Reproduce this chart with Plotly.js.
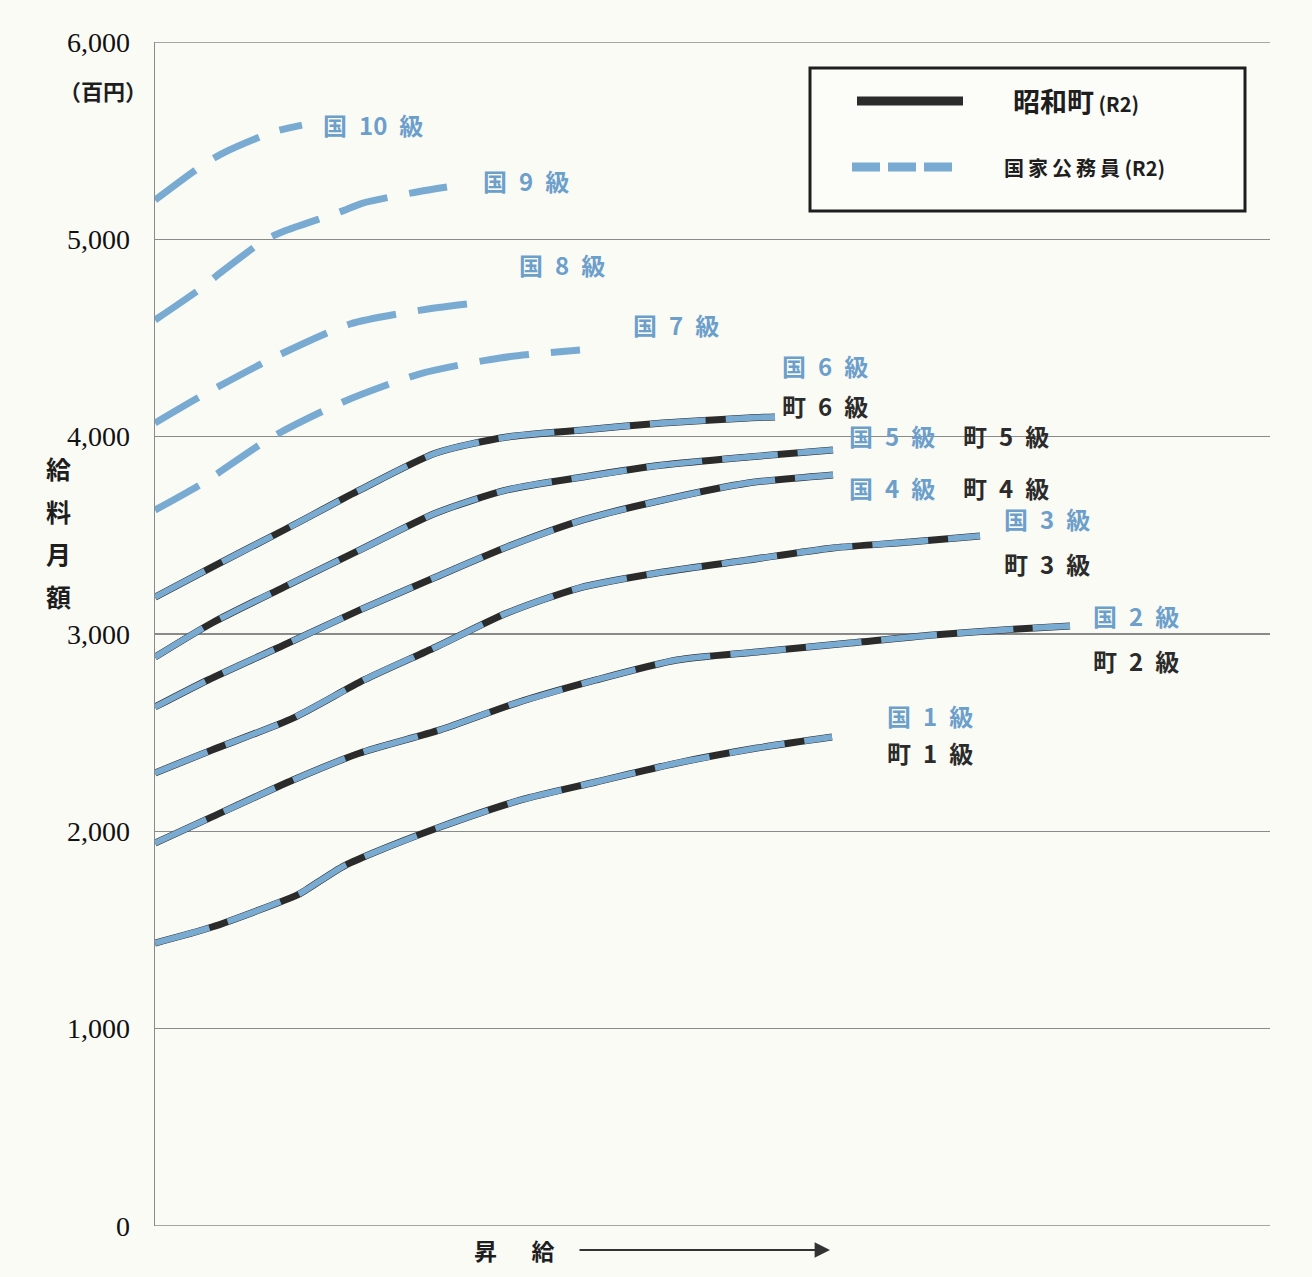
<!DOCTYPE html>
<html>
<head>
<meta charset="utf-8">
<script src="https://cdn.plot.ly/plotly-3.0.1.min.js"></script>
<style>
html,body{margin:0;padding:0;background:#fbfbf6;}
#chart{width:1312px;height:1277px;}
</style>
</head>
<body>
<div id="chart"></div>
<script>
// x: position along the pay-step (昇給) direction, arbitrary units 0..1115
// y: monthly salary in 百円
const grades = ['1', '2', '3', '4', '5', '6'];
const g1x = [0, 57, 142, 151, 187, 218, 285, 366, 441, 522, 602, 677];
const g1y = [1434, 1515, 1677, 1703, 1819, 1890, 2022, 2159, 2250, 2346, 2422, 2478];
const g2x = [0, 57, 138, 205, 285, 361, 441, 522, 602, 695, 778, 862, 915];
const g2y = [1941, 2073, 2260, 2397, 2514, 2650, 2767, 2868, 2909, 2954, 2995, 3025, 3041];
const g3x = [0, 57, 138, 209, 281, 352, 424, 508, 593, 678, 755, 825];
const g3y = [2296, 2412, 2574, 2767, 2934, 3106, 3233, 3314, 3375, 3436, 3466, 3497];
const g4x = [0, 53, 129, 205, 281, 352, 428, 508, 593, 678];
const g4y = [2630, 2767, 2944, 3122, 3289, 3441, 3578, 3679, 3765, 3806];
const g5x = [0, 57, 129, 205, 281, 352, 428, 508, 593, 678];
const g5y = [2883, 3056, 3238, 3426, 3613, 3730, 3796, 3856, 3897, 3933];
const g6x = [0, 57, 129, 205, 281, 352, 428, 508, 593, 620];
const g6y = [3187, 3339, 3527, 3730, 3917, 3998, 4034, 4069, 4095, 4100];
// 国家公務員 only
const k7x = [0, 48, 117, 188, 265, 345, 425];
const k7y = [3628, 3765, 3998, 4176, 4318, 4399, 4439];
const k8x = [0, 48, 120, 195, 273, 328];
const k8y = [4069, 4211, 4404, 4571, 4647, 4682];
const k9x = [0, 45, 65, 110, 132, 185, 208, 262, 292];
const k9y = [4591, 4748, 4829, 4997, 5047, 5139, 5184, 5240, 5265];
const k10x = [0, 45, 68, 118, 147];
const k10y = [5199, 5367, 5437, 5544, 5579];
const yTicks = [0, 1000, 2000, 3000, 4000, 5000, 6000];
const yTickText = ['0', '1,000', '2,000', '3,000', '4,000', '5,000', '6,000'];

const BLUE = '#79abd2';
const BLUE_TXT = '#6d9fcb';
const BLACK = '#2b2b2b';
const CJK = '"Noto Sans CJK JP", "Noto Sans", sans-serif';
const SP = '\u2002';

// page pixel -> paper coordinate helpers (for decorations only)
const PX0 = 155, PY0 = 1226, PW = 1115, PH = 1184;
function px2p(px) { return (px - PX0) / PW; }
function py2p(py) { return (PY0 - py) / PH; }

const machi = [[g1x,g1y],[g2x,g2y],[g3x,g3y],[g4x,g4y],[g5x,g5y],[g6x,g6y]];
const traces = [];
machi.forEach((s, i) => {
  traces.push({x: s[0], y: s[1], mode: 'lines', name: '町' + grades[i] + '級',
    line: {color: BLACK, width: 7, shape: 'spline', smoothing: 0.7}, hoverinfo: 'skip'});
});
machi.forEach((s, i) => {
  traces.push({x: s[0], y: s[1], mode: 'lines', name: '国' + grades[i] + '級',
    line: {color: BLUE, width: 6, shape: 'spline', smoothing: 0.7, dash: '56px,20px'}, hoverinfo: 'skip'});
});
[[k7x,k7y,'7'],[k8x,k8y,'8'],[k9x,k9y,'9'],[k10x,k10y,'10']].forEach(s => {
  traces.push({x: s[0], y: s[1], mode: 'lines', name: '国' + s[2] + '級',
    line: {color: BLUE, width: 7, shape: 'spline', smoothing: 0.7, dash: '50px,22px'}, hoverinfo: 'skip'});
});

function ann(px, py, text, font, extra) {
  return Object.assign({x: px2p(px), y: py2p(py), xref: 'paper', yref: 'paper', text: text,
    showarrow: false, xanchor: 'center', yanchor: 'middle', font: font}, extra || {});
}

const labels = [
  ['国', '10', 373, 124, BLUE_TXT], ['国', '9', 526, 180, BLUE_TXT],
  ['国', '8', 562, 264, BLUE_TXT], ['国', '7', 676, 324, BLUE_TXT],
  ['国', '6', 825, 365, BLUE_TXT], ['町', '6', 825, 405, BLACK],
  ['国', '5', 892, 435, BLUE_TXT], ['町', '5', 1006, 435, BLACK],
  ['国', '4', 892, 487, BLUE_TXT], ['町', '4', 1006, 487, BLACK],
  ['国', '3', 1047, 518, BLUE_TXT], ['町', '3', 1047, 563, BLACK],
  ['国', '2', 1136, 615, BLUE_TXT], ['町', '2', 1136, 660, BLACK],
  ['国', '1', 930, 715, BLUE_TXT], ['町', '1', 930, 752, BLACK]
];
const annotations = labels.map(l => ann(l[2], l[3],
  '<b>' + l[0] + SP + l[1] + SP + '級</b>', {family: CJK, size: 24, color: l[4]}));
// y-axis unit and title
annotations.push(ann(103, 90, '<b>（百円）</b>', {family: CJK, size: 22, color: '#1e1e1e'}));
['給', '料', '月', '額'].forEach((c, i) => {
  annotations.push(ann(58, 468 + i * 42.5, '<b>' + c + '</b>', {family: CJK, size: 25, color: '#1e1e1e'}));
});
// x-axis label with arrow
annotations.push(ann(514, 1250, '<b>昇\u3000\u2002給</b>', {family: CJK, size: 23, color: '#1e1e1e'}));
annotations.push({x: px2p(830), y: py2p(1250), xref: 'paper', yref: 'paper', ax: px2p(578), ay: py2p(1250),
  axref: 'paper', ayref: 'paper', text: '', showarrow: true, arrowhead: 2, arrowsize: 1.4, arrowwidth: 2.2,
  arrowcolor: '#333'});
// legend texts
annotations.push(ann(1011, 100, '<b>昭和町</b><span style="font-size:20px"><b> (R2)</b></span>',
  {family: CJK, size: 27, color: '#1e1e1e'}, {xanchor: 'left'}));
annotations.push(ann(1002, 167, '<b>国\u2009家\u2009公\u2009務\u2009員 (R2)</b>',
  {family: CJK, size: 20, color: '#1e1e1e'}, {xanchor: 'left'}));

const GRID = '#8a8a8a';
const shapes = [
  // top and bottom grid lines (at 6,000 and 0)
  {type: 'line', xref: 'paper', yref: 'y', x0: 0, x1: 1, y0: 6000, y1: 6000, line: {color: GRID, width: 1.3}, layer: 'below'},
  {type: 'line', xref: 'paper', yref: 'y', x0: 0, x1: 1, y0: 0, y1: 0, line: {color: GRID, width: 1.3}, layer: 'below'},
  {type: 'rect', xref: 'paper', yref: 'paper', x0: px2p(810), x1: px2p(1245), y0: py2p(68), y1: py2p(211),
    line: {color: '#1e1e1e', width: 3}, fillcolor: '#fcfcf8', layer: 'above'},
  {type: 'line', xref: 'paper', yref: 'paper', x0: px2p(857), x1: px2p(963), y0: py2p(101), y1: py2p(101),
    line: {color: BLACK, width: 9}, layer: 'above'},
  {type: 'line', xref: 'paper', yref: 'paper', x0: px2p(852), x1: px2p(960), y0: py2p(167), y1: py2p(167),
    line: {color: BLUE, width: 9, dash: '28px,8px'}, layer: 'above'}
];

const layout = {
  width: 1312, height: 1277,
  paper_bgcolor: '#fbfbf6', plot_bgcolor: '#fbfbf6',
  margin: {l: 155, r: 42, t: 42, b: 51},
  showlegend: false,
  xaxis: {range: [0, 1115], showgrid: false, zeroline: false, showticklabels: false,
    showline: false, ticks: '', fixedrange: true},
  yaxis: {range: [0, 6000], tickvals: yTicks, ticktext: yTickText, showgrid: true,
    gridcolor: GRID, gridwidth: 1.3, zeroline: false, showline: true, linecolor: GRID,
    linewidth: 1.3, ticks: '', ticklabelstandoff: 18,
    tickfont: {family: '"Liberation Serif", "DejaVu Serif", serif', size: 28, color: '#111'},
    fixedrange: true},
  annotations: annotations,
  shapes: shapes
};

Plotly.newPlot('chart', traces, layout, {displayModeBar: false, staticPlot: true});
</script>
</body>
</html>
